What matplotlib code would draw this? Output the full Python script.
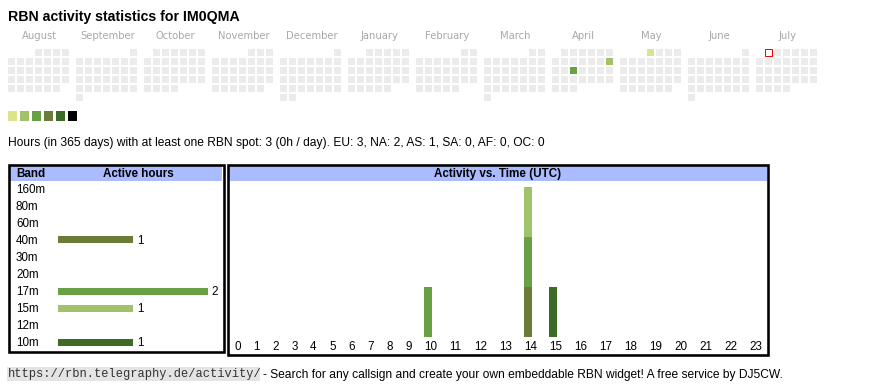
#!/usr/bin/env python3
"""RBN activity widget for one callsign: calendar, band bars and hourly activity."""

import calendar
from datetime import date

import numpy as np
import matplotlib
matplotlib.use("Agg")
import matplotlib.pyplot as plt
from matplotlib.patches import Rectangle
from matplotlib import transforms

PX = 72 / 100  # points per pixel at dpi 100
SANS = ["Liberation Sans", "DejaVu Sans"]

# --- data -------------------------------------------------------------
callsign = "IM0QMA"
months = [(2024, 8), (2024, 9), (2024, 10), (2024, 11), (2024, 12), (2025, 1),
          (2025, 2), (2025, 3), (2025, 4), (2025, 5), (2025, 6), (2025, 7)]
level_colors = ["#dbe38c", "#a0c268", "#68a046", "#6a7b3a", "#3e6a28", "#000000"]
active_days = ["2025-04-13", "2025-04-16", "2025-05-01"]
active_levels = [2, 3, 1]
today = "2025-07-01"

bands = ["160m", "80m", "60m", "40m", "30m", "20m", "17m", "15m", "12m", "10m"]
band_colors = ["#7a5a2a", "#8a6a3a", "#9a7a4a", "#6a7b3a", "#4f7f3a",
               "#5f8f3f", "#68a046", "#a0c268", "#506f30", "#3e6a28"]
band_hours = {"40m": [14], "17m": [10, 14], "15m": [14], "10m": [15]}
hours = list(range(24))
continents = ["EU", "NA", "AS", "SA", "AF", "OC"]
continent_counts = [3, 2, 1, 0, 0, 0]
url = "https://rbn.telegraphy.de/activity/"
footer = "- Search for any callsign and create your own embeddable RBN widget! A free service by DJ5CW."

# --- figure -----------------------------------------------------------
fig = plt.figure(figsize=(8.7, 3.9), dpi=100)
canvas = fig.add_axes([0, 0, 1, 1])
canvas.set_xlim(0, 870)
canvas.set_ylim(390, 0)
canvas.axis("off")

canvas.text(8, 20.6, f"RBN activity statistics for {callsign}", family=SANS,
            fontsize=14.1 * PX, fontweight="bold", va="baseline")

# calendar: one block of 7 weekday columns per month
day_level = dict(zip(active_days, active_levels))
for m, (yr, mo) in enumerate(months):
    first_wd, ndays = calendar.monthrange(yr, mo)
    x0 = 8 + 68 * m
    canvas.text(x0 + 31.5, 38.7, calendar.month_name[mo], family="DejaVu Sans",
                fontsize=10 * PX, color="#a8a8a8", ha="center", va="baseline")
    for d in range(1, ndays + 1):
        k = first_wd + d - 1
        col, row = k % 7, k // 7
        key = date(yr, mo, d).isoformat()
        face, edge = "#ebebeb", "none"
        if key in day_level:
            face = level_colors[day_level[key] - 1]
        if key == today:
            face, edge = "white", "#ff0000"
        canvas.add_patch(Rectangle((x0 + 9 * col, 49 + 9 * row), 7, 7,
                                   facecolor=face, edgecolor=edge, lw=1 * PX))

for k, c in enumerate(level_colors):
    canvas.add_patch(Rectangle((8 + 12 * k, 111), 9.5, 9.5, facecolor=c, edgecolor="none"))

active_total = len({h for hs in band_hours.values() for h in hs})
cont_txt = ", ".join(f"{c}: {n}" for c, n in zip(continents, continent_counts))
canvas.text(8, 145.7, f"Hours (in 365 days) with at least one RBN spot: {active_total} "
            f"(0h / day). {cont_txt}", family=SANS, fontsize=12 * PX, va="baseline")

# table frames and headers
canvas.add_patch(Rectangle((10.5, 165.5), 212, 15.5, facecolor="#aabbff", edgecolor="none"))
canvas.add_patch(Rectangle((229.5, 165.5), 538, 15.5, facecolor="#aabbff", edgecolor="none"))
canvas.add_patch(Rectangle((9.3, 164.5), 214.6, 187, facecolor="none", edgecolor="black", lw=2.6 * PX))
canvas.add_patch(Rectangle((228.1, 164.5), 540.3, 190.2, facecolor="none", edgecolor="black", lw=2.6 * PX))
hdr = dict(family=SANS, fontsize=11.6 * PX, fontweight="bold", va="baseline")
canvas.text(16, 177, "Band", **hdr)
canvas.text(138, 177, "Active hours", ha="center", **hdr)
canvas.text(498, 177, "Activity vs. Time (UTC)", ha="center", **hdr)

# band bars
band_totals = [len(band_hours.get(b, [])) for b in bands]
ax_band = fig.add_axes([58 / 870, 1 - 350 / 390, 160 / 870, 169 / 390])
ax_band.set_xlim(0, 160 / 75)
ax_band.set_ylim(9.47, -0.47)
ax_band.axis("off")
label_tr = transforms.blended_transform_factory(canvas.transData, ax_band.transData)
for i, (b, v) in enumerate(zip(bands, band_totals)):
    ax_band.annotate(b, xy=(16, i), xycoords=label_tr, xytext=(0, -4.2),
                     textcoords="offset pixels", va="baseline", family=SANS,
                     fontsize=11.6 * PX, annotation_clip=False)
    if v > 0:
        ax_band.barh(i, v, height=7 / 17, color=band_colors[i])
        ax_band.annotate(str(v), xy=(v, i), xytext=(3.7, -4.2), textcoords="offset pixels",
                         va="baseline", family=SANS, fontsize=11.6 * PX, annotation_clip=False)

# hourly activity, stacked by band; column widths follow the label width
col_w = np.array([13 + 6 * len(str(h)) for h in hours], dtype=float)
lefts = np.cumsum(col_w) - col_w
centers = lefts + col_w / 2
ax_act = fig.add_axes([228 / 870, 1 - 337 / 390, 540 / 870, 156 / 390])
ax_act.set_xlim(0, col_w.sum())
ax_act.set_ylim(0, 156 / 50)
ax_act.axis("off")
bottom = np.zeros(len(hours))
for i, b in enumerate(bands):
    cnt = np.array([1.0 if h in band_hours.get(b, []) else 0.0 for h in hours])
    if cnt.any():
        ax_act.bar(lefts + 6, cnt, width=8, bottom=bottom, align="edge", color=band_colors[i])
        bottom += cnt
hour_tr = transforms.blended_transform_factory(ax_act.transData, canvas.transData)
for h, cx in zip(hours, centers):
    ax_act.text(cx, 350, str(h), transform=hour_tr, ha="center", va="baseline",
                family=SANS, fontsize=11.6 * PX, clip_on=False)

# footer
canvas.add_patch(Rectangle((7, 367.3), 253, 14, facecolor="#e4e4e4", edgecolor="none"))
canvas.text(8, 377.5, url, family=["Liberation Mono", "DejaVu Sans Mono"],
            fontsize=12 * PX, color="#333333", va="baseline")
canvas.text(263, 378, footer, family=SANS, fontsize=12.05 * PX, va="baseline")

fig.savefig("out.png", dpi=100)
